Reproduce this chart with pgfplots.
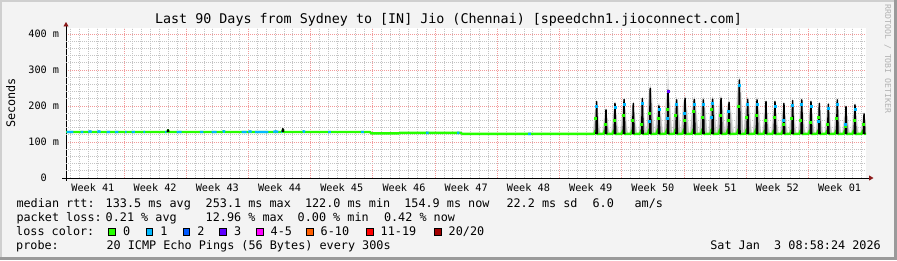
\documentclass[border=0pt]{standalone}
\usepackage{fontspec}
\setmainfont{DejaVu Sans Mono}
\setmonofont{DejaVu Sans Mono}
\usepackage{pgfplots}
\pgfplotsset{compat=1.18}
\usetikzlibrary{arrows.meta}
\definecolor{canvas}{HTML}{F3F3F3}
\definecolor{framelight}{HTML}{CFCFCF}
\definecolor{framedark}{HTML}{9A9A9A}
\definecolor{mgrid}{HTML}{F29A9A}
\definecolor{gridc}{HTML}{C4C4C4}
\definecolor{arrowred}{HTML}{8B1A1A}
\definecolor{loss0}{HTML}{26FF00}
\definecolor{loss1}{HTML}{00B8FF}
\definecolor{loss2}{HTML}{0059FF}
\definecolor{loss3}{HTML}{5E00FF}
\definecolor{loss5}{HTML}{FF00FF}
\definecolor{loss10}{HTML}{FF5E00}
\definecolor{loss19}{HTML}{FF0000}
\definecolor{loss20}{HTML}{A10000}
\definecolor{smokelight}{HTML}{E2E2E2}
\definecolor{smoke}{HTML}{BEBEBE}
\newcommand{\legfont}{\fontsize{11.8}{14}\selectfont}
\newcommand{\legtext}[3]{\node[anchor=base west, inner sep=0pt, font=\legfont] at (#1,#2) {#3};}
\newcommand{\legbox}[3]{\filldraw[fill=#3, draw=black, line width=0.8pt] (#1+0.4,#2) rectangle +(6.6,6.6);}
\begin{document}
\begin{tikzpicture}[x=1pt,y=1pt]
\path[use as bounding box] (0,0) rectangle (897,260);
\fill[canvas] (0,0) rectangle (897,260);
\fill[framelight] (0,258) rectangle (897,260);
\fill[framelight] (0,0) rectangle (2,260);
\fill[framedark] (0,0) rectangle (897,2.7);
\fill[framedark] (894.3,0) rectangle (897,260);

\begin{axis}[
  at={(66pt,82pt)}, anchor=origin,
  scale only axis, width=800pt, height=150pt,
  xmin=0, xmax=90, ymin=0, ymax=416.67,
  enlargelimits=false,
  axis background/.style={fill=white},
  axis lines=left,
  axis line style={black, line width=0.9pt},
  x axis line style={shorten <=-4pt, shorten >=-7.5pt, -{Triangle[length=4.5pt,width=5pt,color=arrowred]}},
  y axis line style={shorten <=-3pt, shorten >=-6pt, -{Triangle[length=4.5pt,width=5pt,color=arrowred]}},
  major tick length=0pt, minor tick length=0pt,
  tick style={draw=none},
  xtick={3.025,10.025,17.025,24.025,31.025,38.025,45.025,52.025,59.025,66.025,73.025,80.025,87.025},
  xticklabels={Week 41,Week 42,Week 43,Week 44,Week 45,Week 46,Week 47,Week 48,Week 49,Week 50,Week 51,Week 52,Week 01},
  minor xtick={0.525,1.525,...,89.525},
  xmajorgrids=false, xminorgrids=true,
  extra x ticks={6.525,13.525,20.525,27.525,34.525,41.525,48.525,55.525,62.525,69.525,76.525,83.525},
  extra x tick labels={},
  extra x tick style={grid=major},
  ytick={0,100,200,300,400},
  yticklabels={0\phantom{~m},100 m,200 m,300 m,400 m},
  ymajorgrids=true, yminorgrids=false,
  extra y ticks={20,40,60,80,120,140,160,180,220,240,260,280,320,340,360,380},
  extra y tick labels={},
  extra y tick style={grid=major, major grid style={draw=gridc}},
  major grid style={mgrid, line width=0.8pt, dash pattern=on 1pt off 1pt},
  minor grid style={gridc, line width=0.8pt, dash pattern=on 1pt off 1pt},
  tick label style={font=\fontsize{10.2}{12}\selectfont, inner sep=0pt},
  xticklabel style={anchor=base, yshift=-13.5pt},
  yticklabel style={anchor=east, xshift=-6.7pt},
]
% outer (light) smoke
\addplot[fill=smokelight, draw=none] coordinates {
(59.25,122)(59.45,181)(59.70,218)(59.95,167)(60.15,122)
(60.30,122)(60.50,166)(60.75,195)(61.00,156)(61.20,122)
(61.31,122)(61.51,177)(61.76,213)(62.01,165)(62.21,122)
(62.33,122)(62.53,184)(62.78,224)(63.03,170)(63.23,122)
(63.37,122)(63.57,177)(63.82,213)(64.07,165)(64.27,122)
(64.39,122)(64.59,186)(64.84,227)(65.09,172)(65.29,122)
(65.30,122)(65.48,230)(65.73,257)(65.98,217)(66.20,122)
(66.26,122)(66.46,188)(66.71,210)(66.96,181)(67.18,122)
(67.26,122)(67.48,226)(67.73,250)(67.98,214)(68.20,122)
(68.24,122)(68.45,203)(68.70,225)(68.95,193)(69.15,122)
(69.19,122)(69.39,206)(69.64,229)(69.89,196)(70.12,122)
(70.20,122)(70.43,204)(70.68,226)(70.93,194)(71.15,122)
(71.22,122)(71.45,203)(71.70,225)(71.95,193)(72.18,122)
(72.24,122)(72.50,205)(72.75,227)(73.00,195)(73.20,122)
(73.24,122)(73.44,206)(73.69,229)(73.94,196)(74.12,122)
(74.15,122)(74.34,197)(74.59,218)(74.84,188)(75.20,122)
(75.28,122)(75.50,250)(75.75,278)(76.00,235)(76.20,122)
(76.24,122)(76.44,204)(76.69,226)(76.94,194)(77.16,122)
(77.26,122)(77.49,203)(77.74,225)(77.99,193)(78.20,122)
(78.30,122)(78.50,181)(78.75,218)(79.00,167)(79.20,122)
(79.31,122)(79.51,181)(79.76,218)(80.01,167)(80.21,122)
(80.32,122)(80.52,177)(80.77,213)(81.02,165)(81.22,122)
(81.30,122)(81.50,183)(81.75,221)(82.00,169)(82.20,122)
(82.32,122)(82.52,184)(82.77,223)(83.02,170)(83.22,122)
(83.36,122)(83.56,181)(83.81,218)(84.06,167)(84.26,122)
(84.30,122)(84.50,177)(84.75,213)(85.00,165)(85.20,122)
(85.31,122)(85.51,176)(85.76,211)(86.01,164)(86.21,122)
(86.32,122)(86.52,184)(86.77,223)(87.02,170)(87.22,122)
(87.30,122)(87.50,171)(87.75,204)(88.00,160)(88.20,122)
(88.31,122)(88.51,175)(88.76,209)(89.01,163)(89.21,122)
(89.33,122)(89.53,158)(89.78,184)(90,155)(90,122)
};
% inner (dense) smoke
\addplot[fill=smoke, draw=none] coordinates {
(59.30,122)(59.50,167)(59.70,216)(59.90,154)(60.10,122)
(60.35,122)(60.55,156)(60.75,193)(60.95,145)(61.15,122)
(61.36,122)(61.56,165)(61.76,211)(61.96,152)(62.16,122)
(62.38,122)(62.58,170)(62.78,222)(62.98,156)(63.18,122)
(63.42,122)(63.62,165)(63.82,211)(64.02,152)(64.22,122)
(64.44,122)(64.64,172)(64.84,225)(65.04,157)(65.24,122)
(65.28,122)(65.51,217)(65.73,257)(65.95,198)(66.18,122)
(66.26,122)(66.49,181)(66.71,208)(66.93,169)(67.16,122)
(67.28,122)(67.51,214)(67.68,240)(67.73,305)(67.78,240)(67.95,195)(68.18,122)
(68.25,122)(68.48,193)(68.70,225)(68.92,179)(69.15,122)
(69.19,122)(69.42,196)(69.64,229)(69.86,181)(70.09,122)
(70.23,122)(70.46,194)(70.68,226)(70.90,180)(71.13,122)
(71.25,122)(71.48,193)(71.70,225)(71.92,179)(72.15,122)
(72.30,122)(72.53,195)(72.75,227)(72.97,180)(73.20,122)
(73.24,122)(73.47,196)(73.69,229)(73.91,181)(74.14,122)
(74.15,122)(74.37,188)(74.59,218)(74.81,175)(75.04,122)
(75.30,122)(75.53,234)(75.70,260)(75.75,285)(75.80,260)(75.97,212)(76.20,122)
(76.24,122)(76.47,194)(76.69,226)(76.91,180)(77.14,122)
(77.29,122)(77.52,193)(77.74,225)(77.96,179)(78.19,122)
(78.35,122)(78.55,167)(78.75,216)(78.95,154)(79.15,122)
(79.36,122)(79.56,167)(79.76,216)(79.96,154)(80.16,122)
(80.37,122)(80.57,165)(80.77,211)(80.97,152)(81.17,122)
(81.35,122)(81.55,169)(81.75,219)(81.95,155)(82.15,122)
(82.37,122)(82.57,170)(82.77,221)(82.97,155)(83.17,122)
(83.41,122)(83.61,167)(83.81,216)(84.01,154)(84.21,122)
(84.35,122)(84.55,165)(84.75,211)(84.95,152)(85.15,122)
(85.36,122)(85.56,164)(85.76,209)(85.96,151)(86.16,122)
(86.37,122)(86.57,170)(86.77,221)(86.97,155)(87.17,122)
(87.35,122)(87.55,160)(87.75,202)(87.95,149)(88.15,122)
(88.36,122)(88.56,163)(88.76,207)(88.96,150)(89.16,122)
(89.38,122)(89.58,150)(89.78,182)(89.98,142)(90,141)(90,122)
};
% median, loss 0 (green)
\addplot[loss0, line width=2.4pt, line join=round] coordinates {
(0,127.8)(11.38,127.8)(11.48,133)(11.58,127.8)(17.6,127.8)(17.75,129.5)(17.9,127.8)
(24.3,127.8)(24.4,134)(24.5,127.8)(34.2,127.8)(34.35,123.8)(37.4,123.8)(37.6,125.2)
(44.4,125.2)(44.6,122.5)(59.3,122.5)
(59.45,123)(59.58,132)(59.80,122)
(60.50,123)(60.63,132)(60.85,122)
(61.51,123)(61.64,132)(61.86,122)
(62.53,123)(62.66,132)(62.88,122)
(63.57,123)(63.70,132)(63.92,122)
(64.59,123)(64.72,132)(64.94,122)
(65.48,123)(65.61,135)(65.83,122)
(66.46,123)(66.59,135)(66.81,122)
(67.48,123)(67.61,135)(67.83,122)
(68.45,123)(68.58,135)(68.80,122)
(69.39,123)(69.52,135)(69.74,122)
(70.43,123)(70.56,135)(70.78,122)
(71.45,123)(71.58,135)(71.80,122)
(72.50,123)(72.63,135)(72.85,122)
(73.44,123)(73.57,135)(73.79,122)
(74.34,123)(74.47,135)(74.69,122)
(75.50,123)(75.63,135)(75.85,122)
(76.44,123)(76.57,135)(76.79,122)
(77.49,123)(77.62,135)(77.84,122)
(78.50,123)(78.63,132)(78.85,122)
(79.51,123)(79.64,132)(79.86,122)
(80.52,123)(80.65,132)(80.87,122)
(81.50,123)(81.63,132)(81.85,122)
(82.52,123)(82.65,132)(82.87,122)
(83.56,123)(83.69,132)(83.91,122)
(84.50,123)(84.63,132)(84.85,122)
(85.51,123)(85.64,132)(85.86,122)
(86.52,123)(86.65,132)(86.87,122)
(87.50,123)(87.63,132)(87.85,122)
(88.51,123)(88.64,132)(88.86,122)
(89.53,123)(89.66,132)(89.88,122)(90,124)
};
% median, loss 1 (blue) segments
\addplot[loss1, line width=2.4pt, unbounded coords=jump] coordinates {
(0.08,127.8)(0.82,127.8)(0.83,nan)
(1.65,127.8)(1.95,127.8)(1.96,nan)
(2.51,127.8)(2.7,129.5)(2.89,127.8)(2.9,nan)
(3.52,127.8)(3.7,129.5)(3.90,127.8)(3.91,nan)
(4.58,127.8)(4.95,127.8)(4.96,nan)
(5.51,127.8)(5.88,127.8)(5.89,nan)
(6.64,127.8)(6.83,127.8)(6.84,nan)
(7.39,127.8)(7.76,127.8)(7.77,nan)
(8.70,127.8)(8.89,127.8)(8.9,nan)
(11.14,127.8)(11.33,127.8)(11.34,nan)
(12.45,127.8)(13.02,127.8)(13.03,nan)
(15.07,127.8)(15.45,127.8)(15.46,nan)
(16.39,127.8)(16.95,127.8)(16.96,nan)
(17.63,127.8)(17.75,129.5)(17.89,127.8)(17.9,nan)
(19.77,127.8)(20.33,127.8)(20.34,nan)
(20.51,127.8)(20.7,129.5)(20.89,127.8)(20.9,nan)
(21.26,127.8)(22.76,127.8)(22.77,nan)
(23.32,127.8)(23.6,129.5)(23.88,127.8)(23.89,nan)
(24.2,127.8)(24.3,127.8)(24.31,nan)
(26.63,127.8)(26.75,129.5)(26.89,127.8)(26.9,nan)
(29.5,127.8)(29.8,127.8)(29.81,nan)
(33.2,127.8)(33.5,127.8)(33.51,nan)
(40.5,125.2)(40.8,125.2)(40.81,nan)
(44.0,125.2)(44.25,125.2)(44.26,nan)
(52.0,122.5)(52.3,122.5)
};
% dense part of the smoke and median peaks (black)
\addplot[black, line width=1.5pt, line join=round, unbounded coords=jump] coordinates {
(11.40,127.8)(11.48,134)(11.56,127.8)(11.57,nan)
(24.32,127.8)(24.40,137)(24.48,127.8)(24.49,nan)
(59.62,122)(59.70,212)(59.78,122)(59.79,nan)
(60.67,122)(60.75,189)(60.83,122)(60.84,nan)
(61.68,122)(61.76,207)(61.84,122)(61.85,nan)
(62.70,122)(62.78,218)(62.86,122)(62.87,nan)
(63.74,122)(63.82,207)(63.90,122)(63.91,nan)
(64.76,122)(64.84,221)(64.92,122)(64.93,nan)
(65.65,122)(65.73,249)(65.81,122)(65.82,nan)
(66.63,122)(66.71,200)(66.79,122)(66.80,nan)
(67.65,122)(67.73,244)(67.81,122)(67.82,nan)
(68.62,122)(68.70,217)(68.78,122)(68.79,nan)
(69.56,122)(69.64,221)(69.72,122)(69.73,nan)
(70.60,122)(70.68,218)(70.76,122)(70.77,nan)
(71.62,122)(71.70,217)(71.78,122)(71.79,nan)
(72.67,122)(72.75,219)(72.83,122)(72.84,nan)
(73.61,122)(73.69,221)(73.77,122)(73.78,nan)
(74.51,122)(74.59,210)(74.67,122)(74.68,nan)
(75.67,122)(75.75,272)(75.83,122)(75.84,nan)
(76.61,122)(76.69,218)(76.77,122)(76.78,nan)
(77.66,122)(77.74,217)(77.82,122)(77.83,nan)
(78.67,122)(78.75,212)(78.83,122)(78.84,nan)
(79.68,122)(79.76,212)(79.84,122)(79.85,nan)
(80.69,122)(80.77,207)(80.85,122)(80.86,nan)
(81.67,122)(81.75,215)(81.83,122)(81.84,nan)
(82.69,122)(82.77,217)(82.85,122)(82.86,nan)
(83.73,122)(83.81,212)(83.89,122)(83.90,nan)
(84.67,122)(84.75,207)(84.83,122)(84.84,nan)
(85.68,122)(85.76,205)(85.84,122)(85.85,nan)
(86.69,122)(86.77,217)(86.85,122)(86.86,nan)
(87.67,122)(87.75,198)(87.83,122)(87.84,nan)
(88.68,122)(88.76,203)(88.84,122)(88.85,nan)
(89.70,122)(89.78,178)(89.86,122)
};
% median points without loss at mid height
\addplot[only marks, mark=square*, mark size=1pt, color=loss0] coordinates {
(59.58,165)(60.62,150)(61.62,160)(62.64,175)(63.70,160)(64.70,150)(65.60,180)
(66.58,165)(67.60,190)(68.58,175)(69.50,160)(70.54,185)(71.58,170)(72.62,190)
(73.55,175)(74.45,160)(75.62,200)(76.55,170)(77.60,175)(78.62,160)(79.62,170)
(80.64,150)(81.62,165)(82.64,160)(83.68,155)(84.62,170)(85.62,150)(86.64,165)
(87.62,145)(88.62,160)(89.64,150)
};
% median points with 1 lost ping
\addplot[only marks, mark=square*, mark size=1pt, color=loss1] coordinates {
(59.69,200)(61.75,196)(62.77,206)(64.83,208)(66.70,190)(68.69,205)(70.67,206)
(71.69,205)(72.74,207)(75.74,258)(76.68,206)(77.73,205)(79.75,200)(81.74,203)
(82.76,205)(83.80,200)(85.75,193)(86.76,205)(88.75,192)
(65.60,158)(67.60,165)(69.52,180)(72.62,170)(74.50,185)(80.65,160)(84.62,158)(87.62,150)
};
% median point with 3 lost pings
\addplot[only marks, mark=square*, mark size=1pt, color=loss3] coordinates {(67.72,240)};
\end{axis}

\node[anchor=base, inner sep=0pt, font=\fontsize{13.35}{16}\selectfont] at (448.5,236) {Last 90 Days from Sydney to [IN] Jio (Chennai) [speedchn1.jioconnect.com]};
\node[rotate=90, inner sep=0pt, font=\legfont] at (10.7,157) {Seconds};
\node[rotate=-90, inner sep=0pt, font=\fontsize{8.2}{10}\selectfont, text=black!30] at (887.7,201) {RRDTOOL / TOBI OETIKER};

\legtext{16.3}{53}{median rtt:}
\legtext{105.5}{53}{133.5 ms avg}
\legtext{205.5}{53}{253.1 ms max}
\legtext{304.8}{53}{122.0 ms min}
\legtext{404.1}{53}{154.9 ms now}
\legtext{506.3}{53}{22.2 ms sd}
\legtext{592.4}{53}{6.0}
\legtext{634.4}{53}{am/s}

\legtext{16.3}{39}{packet loss:}
\legtext{105.5}{39}{0.21 \% avg}
\legtext{205.5}{39}{12.96 \% max}
\legtext{297.5}{39}{0.00 \% min}
\legtext{383.8}{39}{0.42 \% now}

\legtext{16}{25}{loss color:}
\legbox{108.3}{24.7}{loss0}\legtext{122.8}{25}{0}
\legbox{145.7}{24.7}{loss1}\legtext{160.2}{25}{1}
\legbox{182.7}{24.7}{loss2}\legtext{197.2}{25}{2}
\legbox{219.3}{24.7}{loss3}\legtext{233.8}{25}{3}
\legbox{256.0}{24.7}{loss5}\legtext{270.5}{25}{4-5}
\legbox{306.0}{24.7}{loss10}\legtext{320.5}{25}{6-10}
\legbox{366.0}{24.7}{loss19}\legtext{380.5}{25}{11-19}
\legbox{434.0}{24.7}{loss20}\legtext{448.5}{25}{20/20}

\legtext{16}{11}{probe:}
\legtext{106.3}{11}{20 ICMP Echo Pings (56 Bytes) every 300s}
\node[anchor=base east, inner sep=0pt, font=\legfont] at (881,11) {Sat Jan\ \ 3 08:58:24 2026};
\end{tikzpicture}
\end{document}
